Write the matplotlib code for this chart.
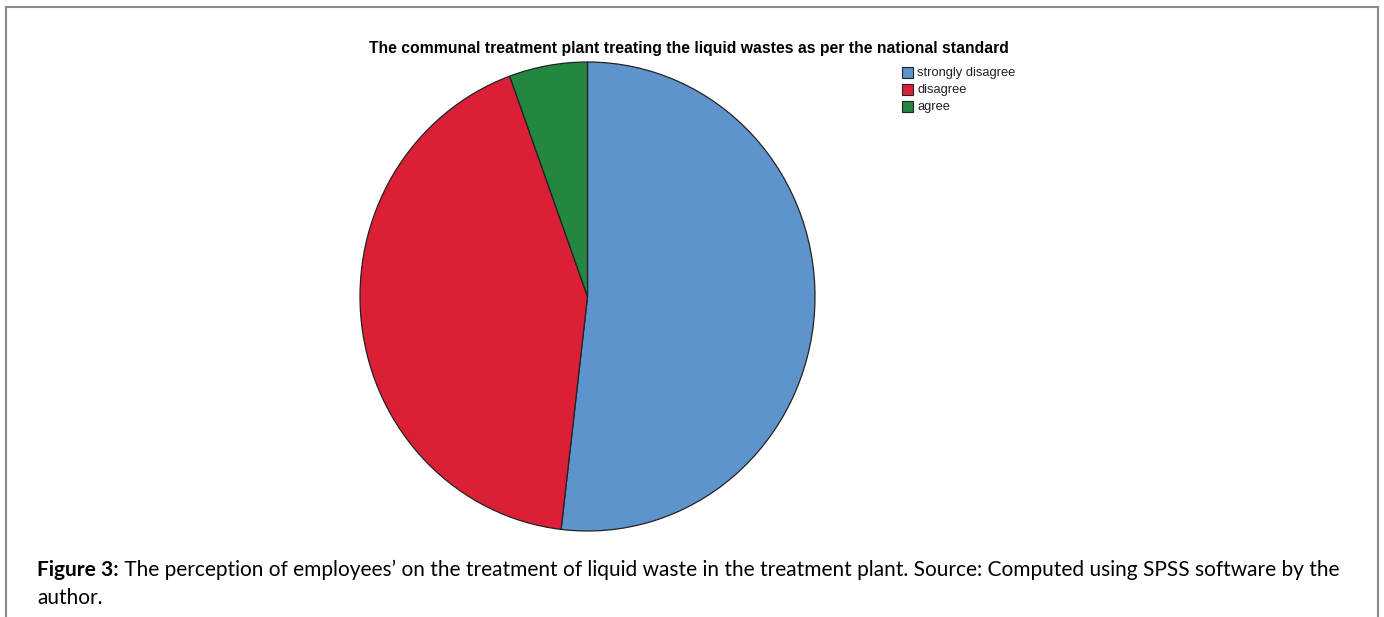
import matplotlib
matplotlib.use("Agg")
import matplotlib.pyplot as plt
from matplotlib.patches import Rectangle
from matplotlib.lines import Line2D

title = "The communal treatment plant treating the liquid wastes as per the national standard"
categories = ["strongly disagree", "disagree", "agree"]
counts = [28, 23, 3]
colors = ["#5F93CB", "#DA1F37", "#23873F"]
caption_bold = "Figure 3:"
caption_line1 = " The perception of employees\u2019 on the treatment of liquid waste in the treatment plant. Source: Computed using SPSS software by the"
caption_line2 = "author."

W, H = 1384, 617
fig = plt.figure(figsize=(W / 100, H / 100), dpi=100)

def px(x0, y0, w, h):
    return [x0 / W, 1 - (y0 + h) / H, w / W, h / H]

# pie
ax = fig.add_axes(px(360, 62, 455, 469))
ax.pie(counts, colors=colors, startangle=90, counterclock=False,
       wedgeprops=dict(edgecolor="#222222", linewidth=0.9))
ax.set_aspect("auto")
ax.set_xlim(-1, 1)
ax.set_ylim(-1, 1)
ax.axis("off")

# title
fig.text(689 / W, 1 - 48 / H, title, ha="center", va="center",
         fontsize=11.3, fontweight="bold", family="Liberation Sans")

# legend
for i, (lab, c) in enumerate(zip(categories, colors)):
    y = 67 + i * 17
    fig.patches.append(Rectangle((902 / W, 1 - (y + 11) / H), 11 / W, 11 / H,
                                 transform=fig.transFigure, facecolor=c,
                                 edgecolor="#222222", linewidth=0.8))
    fig.text(917 / W, 1 - (y + 6) / H, lab, ha="left", va="center",
             fontsize=9.3, family="Liberation Sans", color="#222222")

# frame
frame_kw = dict(transform=fig.transFigure, color="#8a8a8a", linewidth=1.5)
fig.lines.append(Line2D([5.5 / W, 5.5 / W], [0, 1 - 6.5 / H], **frame_kw))
fig.lines.append(Line2D([5.5 / W, 1378 / W], [1 - 6.5 / H, 1 - 6.5 / H], **frame_kw))
fig.lines.append(Line2D([1378 / W, 1378 / W], [0, 1 - 6.5 / H], **frame_kw))

# caption
fs = 15.0
t1 = fig.text(37 / W, 1 - 570 / H, caption_bold, ha="left", va="center",
              fontsize=fs, fontweight="bold", family="Lato")
fig.canvas.draw()
bb = t1.get_window_extent()
fig.text(bb.x1 / W, 1 - 570 / H, caption_line1, ha="left", va="center",
         fontsize=fs, family="Lato")
fig.text(37 / W, 1 - 598 / H, caption_line2, ha="left", va="center",
         fontsize=fs, family="Lato")

fig.savefig("out.png", dpi=100)
